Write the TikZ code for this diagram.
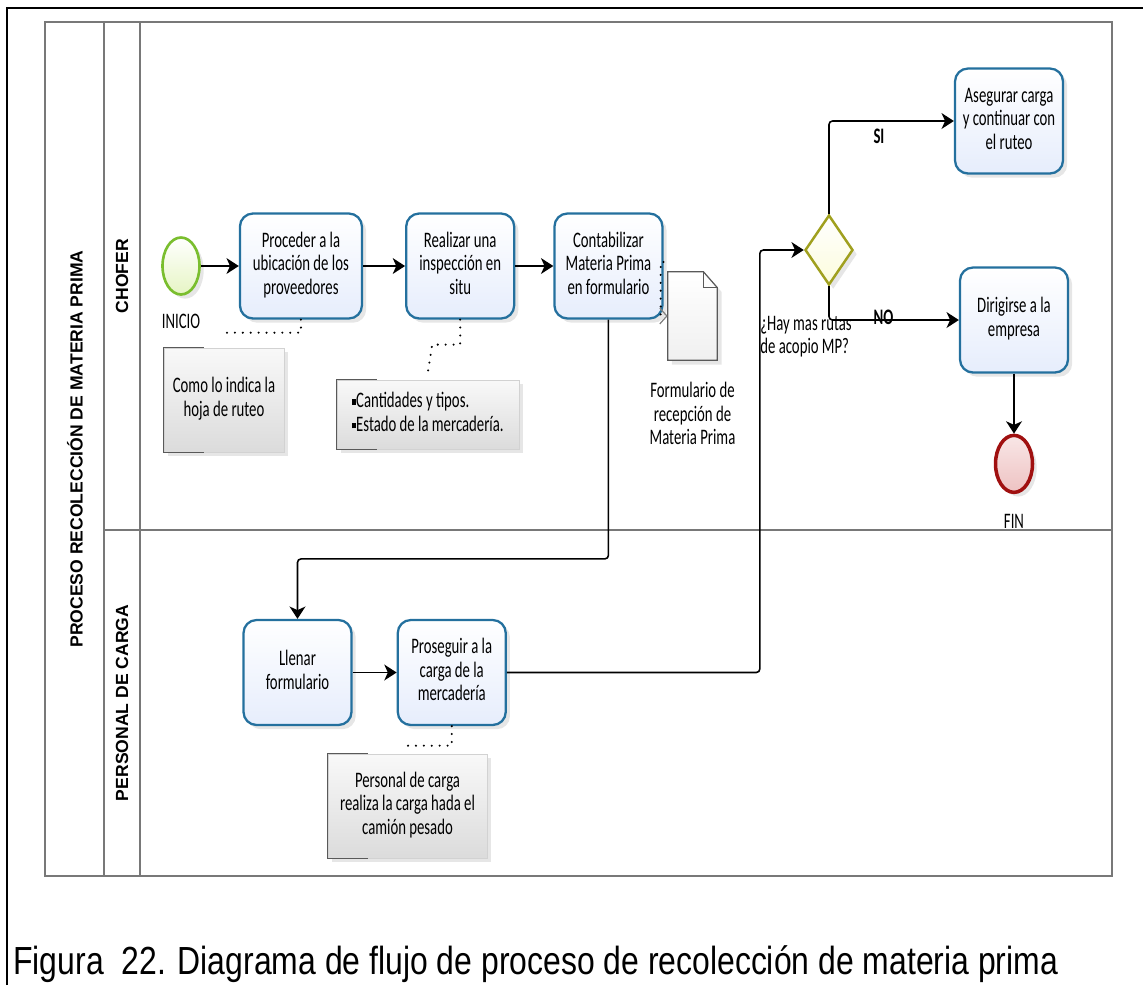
\documentclass[tikz,border=0pt]{standalone}
\usepackage{fontspec}
\setmainfont{Carlito}
\newfontfamily\capfont{Liberation Sans}
\usetikzlibrary{positioning,shapes.geometric,shadows,arrows.meta}

\definecolor{taskline}{RGB}{36,112,158}
\definecolor{taskfill}{RGB}{230,237,252}
\definecolor{startline}{RGB}{122,190,46}
\definecolor{startfill}{RGB}{230,245,196}
\definecolor{endline}{RGB}{160,16,16}
\definecolor{endfill}{RGB}{238,194,194}
\definecolor{gwline}{RGB}{160,160,30}
\definecolor{gwfill}{RGB}{252,252,220}
\definecolor{laneline}{RGB}{120,120,120}

% text stretched like the bizagi export
\newcommand{\lbl}[2][c]{\scalebox{1}[1.5]{\begin{tabular}{@{}#1@{}}#2\end{tabular}}}
\newcommand{\sqbul}{\raisebox{0.25ex}{\rule{2.2pt}{2.2pt}}}

\tikzset{
  task/.style={rectangle, rounded corners=0.26cm, draw=taskline, line width=1.3pt,
    top color=white, bottom color=taskfill, minimum width=2.16cm, minimum height=2.1cm,
    inner sep=0pt, drop shadow={opacity=0.2}, font=\fontsize{8.4}{9}\selectfont},
  note/.style={rectangle, draw=gray!35, top color=gray!5, bottom color=gray!28,
    minimum height=2.08cm, inner sep=0pt, drop shadow={opacity=0.2},
    font=\fontsize{8.4}{9}\selectfont},
  event/.style={ellipse, minimum width=0.74cm, minimum height=1.14cm, inner sep=0pt,
    drop shadow={opacity=0.2}},
  flow/.style={draw, line width=0.9pt, -{Stealth[length=7pt,width=9pt,inset=2pt]}, rounded corners=2pt},
  assoc/.style={line width=1.3pt, dash pattern=on 0pt off 4.5pt, line cap=round},
  txt/.style={font=\fontsize{8.4}{9}\selectfont, inner sep=0pt},
  lab/.style={font=\fontsize{8.4}{9}\selectfont\bfseries, inner sep=1pt},
  lane/.style={font=\capfont\bfseries\fontsize{10}{12}\selectfont, rotate=90, inner sep=0pt}
}

\begin{document}
\begin{tikzpicture}[x=0.02cm, y=-0.02cm]
\useasboundingbox (0,0) rectangle (1143,985);

% Frame
\draw[line width=1.6pt] (7,985) -- (7,8) -- (1143,8);

% Pool and lanes
\draw[laneline, line width=0.9pt] (45,22) rectangle (1112,876);
\draw[laneline, line width=0.8pt] (104,22) -- (104,876) (140,22) -- (140,876) (104,530) -- (1112,530);
\node (pool) [lane] at (75,449) {PROCESO RECOLECCIÓN DE MATERIA PRIMA};
\node (chofer) [lane] at (122,276) {CHOFER};
\node (carga) [lane] at (122,703) {PERSONAL DE CARGA};

% Chofer
\node (start) [event, draw=startline, line width=1.5pt, top color=white, bottom color=startfill] at (181,266) {};
\node (inicio) [txt, below=0.32cm of start] {\lbl{INICIO}};
\node (t1) [task, minimum width=2.44cm, right=0.76cm of start] {\lbl{Proceder a la\\ubicación de los\\proveedores}};
\node (t2) [task, right=0.84cm of t1] {\lbl{Realizar una\\inspección en\\situ}};
\node (t3) [task, right=0.76cm of t2] {\lbl{Contabilizar\\Materia Prima\\en formulario}};
\node (doc) [minimum width=0.98cm, minimum height=1.76cm, inner sep=0pt] at (692.5,316) {};
\node (docname) [txt, below=0.4cm of doc] {\lbl{Formulario de\\recepción de\\Materia Prima}};
\node (gw) [diamond, draw=gwline, line width=1.4pt, top color=white, bottom color=gwfill,
  minimum width=0.96cm, minimum height=1.4cm, aspect=0.69, inner sep=0pt, drop shadow={opacity=0.2}] at (829,250) {};
\node (gwname) [txt, below=0.54cm of gw, xshift=-0.46cm] {\lbl[l]{¿Hay mas rutas\\de acopio MP?}};
\node (t4) [task] at (1009,121) {\lbl{Asegurar carga\\y continuar con\\el ruteo}};
\node (t5) [task] at (1014,320) {\lbl{Dirigirse a la\\empresa}};
\node (fin) [event, draw=endline, line width=2pt, top color=endfill!40, bottom color=endfill, below=1.2cm of t5] {};
\node (finname) [txt, below=0.34cm of fin] {\lbl{FIN}};

% Personal de carga
\node (t6) [task] at (297.5,672.5) {\lbl{Llenar\\formulario}};
\node (t7) [task, right=0.88cm of t6] {\lbl{Proseguir a la\\carga de la\\mercadería}};

% Annotations
\node (a1) [note, minimum width=2.4cm] at (224,400) {\lbl{Como lo indica la\\hoja de ruteo}};
\node (a2) [note, minimum width=3.64cm, minimum height=1.38cm] at (428,414.5) {\lbl[l]{\sqbul Cantidades y tipos.\\\sqbul Estado de la mercadería.}\hspace{0.3cm}};
\node (a3) [note, minimum width=3.18cm] at (407.5,806) {\lbl{Personal de carga\\realiza la carga hada el\\camión pesado}};
\foreach \n in {a1,a2,a3}
  \draw[gray!70!black, line width=0.8pt] ([xshift=0.8cm]\n.north west) -- (\n.north west) -- (\n.south west) -- ([xshift=0.8cm]\n.south west);

% Document
\draw[gray!70!black, line width=0.7pt, top color=white, bottom color=gray!12, drop shadow={opacity=0.2}]
  (doc.south west) -- (doc.north west) -- ([xshift=-0.28cm]doc.north east) -- ([yshift=-0.32cm]doc.north east) -- (doc.south east) -- cycle;
\draw[gray!70!black, line width=0.7pt] ([xshift=-0.28cm]doc.north east) -- ([xshift=-0.28cm,yshift=-0.32cm]doc.north east) -- ([yshift=-0.32cm]doc.north east);

% Sequence flows
\draw[flow] (start) -- (t1);
\draw[flow] (t1) -- (t2);
\draw[flow] (t2) -- (t3);
\draw[flow] (t3.south) |- ([yshift=1.2cm]t6.north) -- (t6.north);
\draw[flow] (t6) -- (t7);
\draw[flow] (t7.east) -- ++(5.06cm,0) |- (gw.west);
\draw[flow] (gw.north) |- (t4.west) node[lab, pos=0.7, below=2pt] {\lbl{SI}};
\draw[flow] (gw.south) |- (t5.west) node[lab, pos=0.71] {\lbl{NO}};
\draw[flow] (t5) -- (fin);

% Associations
\draw[assoc] (t1.south) |- ([yshift=0.3cm]a1.north);
\draw[assoc] (t2.south) |- ++(-0.56cm,-0.5cm) -- ([yshift=0.16cm]a2.north);
\draw[assoc] (t7.south) |- ([yshift=0.16cm]a3.north);
\draw[assoc, -{Straight Barb[length=4pt,width=9pt,line width=0.7pt,color=gray]}]
  ([yshift=0.08cm]t3.east) -| ([xshift=-0.14cm]doc.west) -- (doc.west);

% Caption
\node (caption) [anchor=north west, inner sep=0pt] at (13,945)
  {\resizebox*{20.9cm}{0.74cm}{\capfont Figura\ \ 22. Diagrama de flujo de proceso de recolección de materia prima}};
\end{tikzpicture}
\end{document}
